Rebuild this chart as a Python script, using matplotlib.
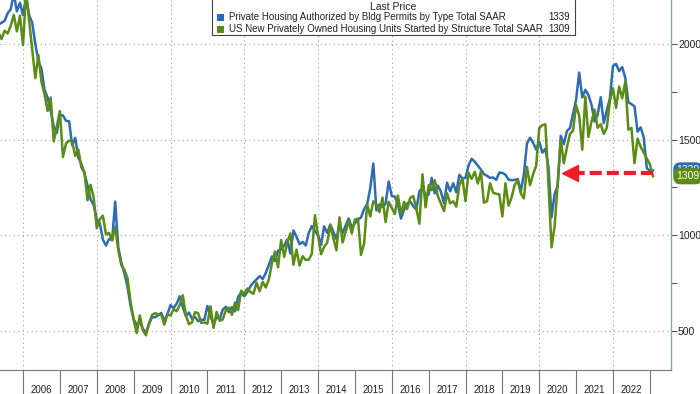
import matplotlib
matplotlib.use("Agg")
import matplotlib.pyplot as plt
import matplotlib.transforms as mtransforms
from matplotlib.patches import Rectangle
import numpy as np
import pandas as pd

plt.rcParams['font.family'] = ['Liberation Sans', 'DejaVu Sans']

# monthly SAAR values, thousands of units, Apr 2005 .. Jan 2023
start_month = '2005-04'

permits = [
    2100, 2110, 2120, 2160, 2180, 2263, 2170, 2215, 2150,                  # 2005
    2245, 2150, 2110, 2000, 1910, 1870, 1760, 1720, 1650, 1570, 1535, 1630,  # 2006
    1626, 1598, 1596, 1470, 1509, 1406, 1373, 1322, 1261, 1188, 1158, 1085,  # 2007
    1062, 978, 947, 981, 977, 1176, 937, 858, 801, 732, 633, 563,            # 2008
    531, 551, 511, 494, 536, 573, 572, 583, 595, 553, 589, 636,              # 2009
    620, 643, 682, 626, 578, 597, 564, 574, 552, 560, 558, 631,              # 2010
    580, 535, 574, 563, 612, 627, 599, 625, 603, 679, 701, 682,              # 2011
    704, 734, 754, 770, 787, 772, 804, 845, 890, 866, 920, 927,              # 2012
    946, 978, 906, 1026, 994, 954, 966, 947, 1013, 1049, 1022, 1003,         # 2013
    950, 1047, 1013, 1057, 1018, 980, 1060, 1011, 1052, 1088, 1040, 1064,    # 2014
    1082, 1094, 1137, 1163, 1245, 1375, 1130, 1161, 1149, 1165, 1282, 1205,  # 2015
    1203, 1161, 1088, 1134, 1166, 1178, 1152, 1135, 1230, 1248, 1212, 1212,  # 2016
    1300, 1219, 1260, 1228, 1168, 1275, 1230, 1272, 1225, 1316, 1298, 1300,  # 2017
    1366, 1400, 1385, 1364, 1344, 1320, 1311, 1300, 1302, 1290, 1328, 1326,  # 2018
    1317, 1291, 1288, 1290, 1294, 1232, 1317, 1480, 1510, 1484, 1448, 1490,  # 2019
    1432, 1452, 1356, 1094, 1216, 1258, 1520, 1476, 1545, 1560, 1635, 1709,  # 2020
    1850, 1720, 1760, 1733, 1683, 1594, 1630, 1721, 1586, 1653, 1717, 1885,  # 2021
    1895, 1857, 1879, 1823, 1695, 1685, 1674, 1542, 1564, 1512, 1351, 1337,  # 2022
    1339,                                                                    # 2023
]

starts = [
    2061, 2025, 2068, 2054, 2095, 2151, 2065, 2147, 1994,                  # 2005
    2273, 2119, 1969, 1821, 1942, 1802, 1737, 1650, 1720, 1491, 1570, 1649,  # 2006
    1409, 1480, 1495, 1490, 1415, 1448, 1354, 1330, 1183, 1264, 1197, 1037,  # 2007
    1084, 1103, 1005, 1013, 973, 1046, 923, 844, 820, 777, 652, 560,         # 2008
    490, 582, 505, 478, 540, 585, 594, 586, 585, 534, 588, 581,              # 2009
    614, 604, 636, 687, 583, 536, 546, 599, 594, 543, 545, 539,              # 2010
    630, 517, 600, 554, 561, 608, 623, 585, 650, 610, 711, 694,              # 2011
    723, 704, 695, 753, 708, 757, 728, 770, 854, 916, 833, 976,              # 2012
    888, 962, 1010, 847, 925, 842, 891, 872, 873, 905, 1105, 1001,           # 2013
    902, 940, 962, 1053, 985, 922, 1094, 963, 1018, 1076, 1010, 1083,        # 2014
    1088, 898, 957, 1162, 1099, 1178, 1162, 1121, 1197, 1069, 1175, 1144,    # 2015
    1112, 1208, 1113, 1175, 1137, 1196, 1205, 1140, 1061, 1319, 1146, 1262,  # 2016
    1236, 1288, 1205, 1166, 1127, 1220, 1167, 1178, 1150, 1262, 1299, 1179,  # 2017
    1327, 1295, 1332, 1271, 1332, 1171, 1178, 1272, 1223, 1217, 1214, 1099,  # 2018
    1272, 1155, 1198, 1264, 1285, 1219, 1193, 1358, 1262, 1319, 1364, 1560,  # 2019
    1575, 1580, 1269, 938, 1046, 1273, 1497, 1376, 1459, 1530, 1547, 1680,   # 2020
    1625, 1447, 1725, 1514, 1594, 1657, 1562, 1580, 1530, 1563, 1703, 1768,  # 2021
    1666, 1777, 1716, 1803, 1552, 1561, 1377, 1505, 1463, 1432, 1401, 1371,  # 2022
    1309,                                                                    # 2023
]

series_names = [
    'Private Housing Authorized by Bldg Permits by Type Total SAAR',
    'US New Privately Owned Housing Units Started by Structure Total SAAR',
]
years = list(range(2006, 2023))
arrow_level = 1325

blue = '#2d6cb4'
green = '#5b8c14'
red = '#ee1c25'

# month-end positions as fractional years
dates = pd.date_range(start_month, periods=len(starts), freq='MS')
x = dates.year + dates.month / 12.0

fig = plt.figure(figsize=(7, 3.94), dpi=100)
ax = fig.add_axes([0, 24 / 394, 671 / 700, 370 / 394])

ax.set_xlim(2005.376, 2023.573)
ax.set_ylim(297, 2229)

# grid
for gx in range(2006, 2023, 2):
    ax.axvline(gx, color='#a0a0a0', lw=0.8, linestyle=(0, (1, 3)), zorder=0)
for gy in [500, 1000, 1500, 2000]:
    ax.axhline(gy, color='#a0a0a0', lw=0.8, linestyle=(0, (1, 3)), zorder=0)

ax.plot(x, permits, color=blue, lw=1.8, zorder=3)
ax.plot(x, starts, color=green, lw=1.8, zorder=4)

# red dashed arrow pointing back to 2020
ax.plot([x[-1], 2020.85], [arrow_level, arrow_level], color=red, lw=3,
        dashes=(2.9, 1.2), solid_capstyle='butt', zorder=5)
ax.plot([2020.84], [arrow_level], marker='<', ms=12, color=red, mec=red, zorder=5)

# y axis on the right
ax.yaxis.tick_right()
ax.set_yticks([500, 1000, 1500, 2000])
ax.set_yticks([750, 1250, 1750], minor=True)
ax.tick_params(axis='y', which='both', direction='out', length=4, width=0.8,
               color='#555555', labelsize=7.5, labelcolor='#222222', pad=1)

# year boxes along the bottom
ax.set_xticks(range(2006, 2024))
ax.set_xticklabels([])
ax.set_xticks([yr + 0.5 for yr in years], minor=True)
ax.set_xticklabels([str(yr) for yr in years], minor=True)
ax.tick_params(axis='x', which='major', direction='out', length=17.5, width=0.8,
               color='#777777')
ax.tick_params(axis='x', which='minor', length=0, labelsize=7, labelcolor='#222222',
               pad=10.5)

for s in ['top', 'left']:
    ax.spines[s].set_visible(False)
ax.spines['right'].set_color('#8aa4c4')
ax.spines['right'].set_linewidth(1.0)
ax.spines['bottom'].set_color('#777777')
ax.spines['bottom'].set_linewidth(0.8)

# last value tags
trans = mtransforms.blended_transform_factory(ax.transAxes, ax.transData)
ax.text(1.008, permits[-1], str(permits[-1]), transform=trans, va='center', ha='left',
        fontsize=7.5, color='white', clip_on=False, zorder=6,
        bbox=dict(boxstyle='round,pad=0.3,rounding_size=0.7', fc=blue, ec='none'))
ax.text(1.008, starts[-1], str(starts[-1]), transform=trans, va='center', ha='left',
        fontsize=7.5, color='white', clip_on=False, zorder=7,
        bbox=dict(boxstyle='round,pad=0.3,rounding_size=0.7', fc=green, ec='none'))

# legend box at the top
W, H = 700.0, 394.0
fig.patches.append(Rectangle((212 / W, 1 - 35 / H), 363 / W, 42 / H, transform=fig.transFigure,
                             fc='white', ec='#444444', lw=0.8, zorder=10))
fig.text(393 / W, 1 - 7 / H, 'Last Price', ha='center', va='center', fontsize=7.5,
         color='#222222', zorder=11)
for i, (name, col, vals) in enumerate(zip(series_names, [blue, green], [permits, starts])):
    yy = 1 - (17 + 12 * i) / H
    fig.patches.append(Rectangle((217 / W, yy - 3.5 / H), 7 / W, 7 / H,
                                 transform=fig.transFigure, fc=col, ec='none', zorder=11))
    fig.text(229 / W, yy, name, ha='left', va='center', fontsize=7.0,
             color='#222222', zorder=11)
    fig.text(570 / W, yy, str(vals[-1]), ha='right', va='center', fontsize=7.0,
             color='#222222', zorder=11)

fig.savefig('out.png', dpi=100, facecolor='white')
